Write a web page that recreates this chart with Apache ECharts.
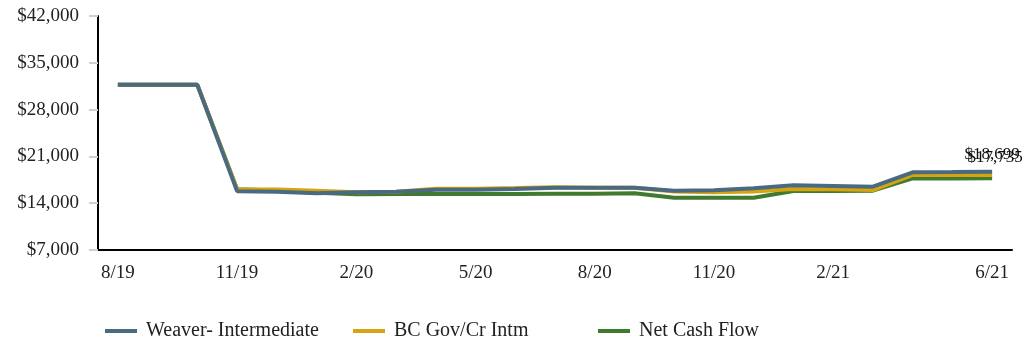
<!DOCTYPE html>
<html>
<head>
<meta charset="utf-8">
<script src="https://cdn.jsdelivr.net/npm/echarts@6/dist/echarts.min.js"></script>
<style>
  html, body { margin: 0; padding: 0; background: #ffffff; }
  #chart { width: 1027px; height: 343px; }
</style>
</head>
<body>
<div id="chart"></div>
<script>
// Month-end dates, Aug 2019 through Jun 2021
const months = ['8/19','9/19','10/19','11/19','12/19','1/20','2/20','3/20','4/20','5/20','6/20','7/20',
                '8/20','9/20','10/20','11/20','12/20','1/21','2/21','3/21','4/21','5/21','6/21'];

// Account values in dollars
const weaverIntermediate = [31700,31700,31700,15800,15720,15480,15630,15720,16020,16020,16120,16320,
                            16320,16320,15870,15950,16220,16670,16570,16470,18620,18650,18699];
const bcGovCrIntm        = [31700,31700,31700,16050,16050,15850,15650,15700,16150,16150,16270,16400,
                            16320,16300,15750,15650,15750,16120,16070,15970,18220,18220,18220];
const netCashFlow        = [31700,31700,31700,16100,15900,15550,15350,15380,15380,15380,15380,15420,
                            15420,15480,14820,14820,14820,15820,15820,15870,17700,17700,17735];

const yTicks = { min: 7000, max: 42000, step: 7000 };

const FONT = '"Liberation Serif", "DejaVu Serif", serif';
const COLORS = { weaver: '#496a80', bc: '#d6a311', ncf: '#3f7a2f' };

const money = v => '$' + Math.round(v).toLocaleString('en-US');
const lastIdx = months.length - 1;

// Only the final point carries a (zero-size) symbol so its value label is drawn
function withEndLabel(values, labelCfg) {
  return values.map((v, i) => i === lastIdx
    ? { value: v, symbol: 'circle', symbolSize: 0, label: labelCfg }
    : { value: v, symbol: 'none' });
}

const chart = echarts.init(document.getElementById('chart'), null, { renderer: 'canvas' });

const legendBase = {
  orient: 'horizontal',
  top: 316,
  itemWidth: 32,
  itemHeight: 4,
  icon: 'rect',
  textStyle: { fontFamily: FONT, fontSize: 20, color: '#222', padding: [0, 0, 0, 4] },
  selectedMode: false
};

chart.setOption({
  animation: false,
  grid: { left: 98, right: 15, top: 16, bottom: 93, containLabel: false },
  legend: [
    Object.assign({}, legendBase, { left: 100, data: ['Weaver- Intermediate'] }),
    Object.assign({}, legendBase, { left: 348, data: ['BC Gov/Cr Intm'] }),
    Object.assign({}, legendBase, { left: 593, data: ['Net Cash Flow'] })
  ],
  xAxis: {
    type: 'category',
    data: months,
    boundaryGap: true,
    axisLine: { lineStyle: { color: '#000', width: 2 } },
    axisTick: {
      alignWithLabel: true,
      length: 9,
      lineStyle: { color: '#d0d0d0', width: 2 },
      interval: i => i % 3 === 0 || i === lastIdx
    },
    axisLabel: {
      fontFamily: FONT, fontSize: 19, color: '#222', margin: 14,
      interval: i => (i % 3 === 0 && i !== 21) || i === lastIdx
    },
    splitLine: { show: false }
  },
  yAxis: {
    type: 'value',
    min: yTicks.min,
    max: yTicks.max,
    interval: yTicks.step,
    axisLine: { show: true, lineStyle: { color: '#000', width: 2 } },
    axisTick: { show: true, length: 9, inside: false, lineStyle: { color: '#d0d0d0', width: 2 } },
    axisLabel: { fontFamily: FONT, fontSize: 19, color: '#222', margin: 19, formatter: money },
    splitLine: { show: false }
  },
  series: [
    {
      name: 'Net Cash Flow',
      type: 'line',
      data: withEndLabel(netCashFlow, {
        show: true, position: 'top', distance: 8, offset: [3, -4],
        formatter: p => money(p.value), fontFamily: FONT, fontSize: 17, color: '#111'
      }),
      color: COLORS.ncf,
      lineStyle: { width: 4, color: COLORS.ncf },
      showSymbol: true, z: 2
    },
    {
      name: 'BC Gov/Cr Intm',
      type: 'line',
      data: bcGovCrIntm,
      color: COLORS.bc,
      lineStyle: { width: 4, color: COLORS.bc },
      showSymbol: false, symbol: 'none', z: 3
    },
    {
      name: 'Weaver- Intermediate',
      type: 'line',
      data: withEndLabel(weaverIntermediate, {
        show: true, position: 'top', distance: 9,
        formatter: p => money(p.value), fontFamily: FONT, fontSize: 17, color: '#111'
      }),
      color: COLORS.weaver,
      lineStyle: { width: 4, color: COLORS.weaver },
      showSymbol: true, z: 4
    }
  ]
});
</script>
</body>
</html>
